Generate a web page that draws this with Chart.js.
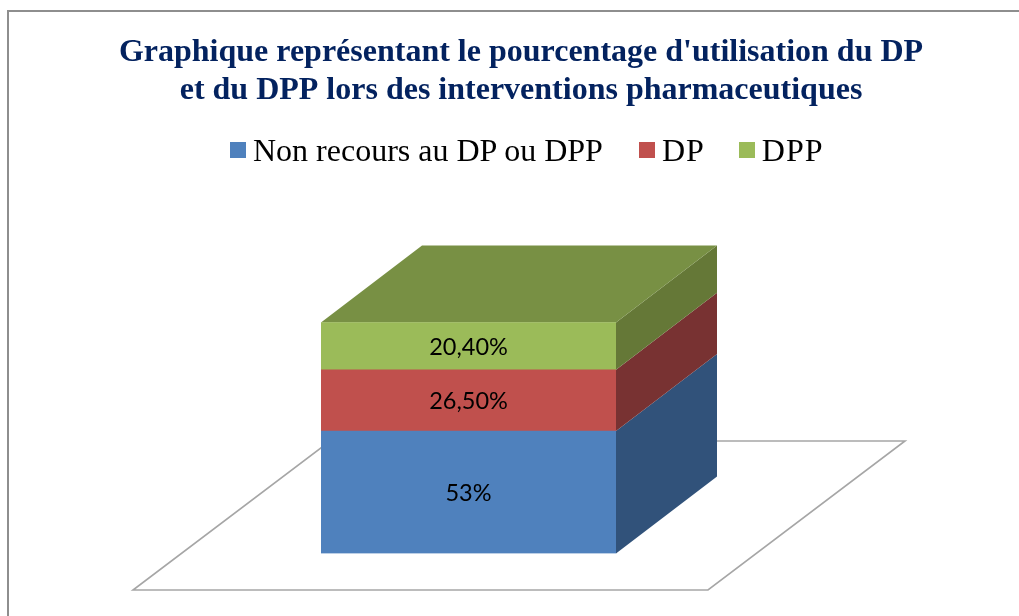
<!DOCTYPE html>
<html lang="fr">
<head>
<meta charset="utf-8">
<title>Graphique DP / DPP</title>
<script src="https://cdn.jsdelivr.net/npm/chart.js@4/dist/chart.umd.min.js"></script>
<style>
  html, body { margin: 0; padding: 0; background: #fff; overflow: hidden; width: 1019px; height: 616px; }
  #frame { position: absolute; left: 7px; top: 10px; width: 1100px; height: 700px; border: 2px solid #8e8e8e; }
  #chart { position: absolute; left: 0; top: 0; display: block; }
  #legend { position: absolute; left: 230px; top: 130px; display: flex; align-items: center; white-space: nowrap;
            font: 32px "Liberation Serif", serif; color: #000; line-height: 40px; }
  .legend-item { display: flex; align-items: center; margin-right: 36px; }
  .legend-box { width: 16px; height: 16px; margin-right: 7px; }
  .legend-item:nth-child(2) { margin-right: 34px; }
  .legend-item:nth-child(n+2) span:last-child { letter-spacing: 1px; }
</style>
</head>
<body>
<div id="frame"></div>
<canvas id="chart" width="1019" height="616"></canvas>
<div id="legend"></div>
<script>
const titleLines = ["Graphique représentant le pourcentage d'utilisation du DP", "et du DPP lors des interventions pharmaceutiques"];
const categories = ['Interventions pharmaceutiques'];
const seriesNames = ['Non recours au DP ou DPP', 'DP', 'DPP'];
const seriesValues = [53, 26.5, 20.4];
const valueLabels = ['53%', '26,50%', '20,40%'];
const frontColors = ['#4F81BD', '#C0504D', '#9BBB59'];
const sideColors = ['#31527A', '#783232', '#657837'];
const topColor = '#789044';

// depth of the fake 3D box, and of the floor around it
const DEPTH_X = 101, DEPTH_Y = 77;

const poly = (ctx, pts, fill) => {
  ctx.beginPath();
  pts.forEach((p, i) => i ? ctx.lineTo(p[0], p[1]) : ctx.moveTo(p[0], p[1]));
  ctx.closePath();
  ctx.fillStyle = fill;
  ctx.fill();
};

const boxPlugin = {
  id: 'box3d',
  beforeDatasetsDraw(chart) {
    const { ctx } = chart;
    const bars = chart.data.datasets.map((d, i) => chart.getDatasetMeta(i).data[0]);
    const first = bars[0];
    const left = first.x - first.width / 2, right = first.x + first.width / 2;
    const bottom = chart.scales.y.getPixelForValue(0);

    ctx.save();
    // floor
    ctx.beginPath();
    ctx.moveTo(left - 188, bottom + 36.5);
    ctx.lineTo(right + 92, bottom + 36.5);
    ctx.lineTo(right + 289, bottom - 112.5);
    ctx.lineTo(left + 9, bottom - 112.5);
    ctx.closePath();
    ctx.strokeStyle = '#a6a6a6';
    ctx.lineWidth = 1.6;
    ctx.stroke();

    // side faces, one per stacked series
    bars.forEach((bar, i) => {
      poly(ctx, [
        [right, bar.base], [right + DEPTH_X, bar.base - DEPTH_Y],
        [right + DEPTH_X, bar.y - DEPTH_Y], [right, bar.y]
      ], sideColors[i]);
    });

    // top face
    const top = bars[bars.length - 1].y;
    poly(ctx, [
      [left, top], [right, top],
      [right + DEPTH_X, top - DEPTH_Y], [left + DEPTH_X, top - DEPTH_Y]
    ], topColor);
    ctx.restore();
  },
  afterDatasetsDraw(chart) {
    const { ctx } = chart;
    ctx.save();
    ctx.textAlign = 'center';
    ctx.textBaseline = 'middle';
    ctx.fillStyle = '#000';
    ctx.font = '23.5px Lato, sans-serif';
    chart.data.datasets.forEach((d, i) => {
      const bar = chart.getDatasetMeta(i).data[0];
      ctx.fillText(valueLabels[i], bar.x, (bar.y + bar.base) / 2 + 1.5);
    });
    ctx.restore();
  }
};

document.getElementById('legend').innerHTML = seriesNames.map((name, i) => `
  <span class="legend-item">
    <span class="legend-box" style="background:${frontColors[i]}"></span>
    <span>${name}</span>
  </span>
`).join('');

new Chart(document.getElementById('chart'), {
  type: 'bar',
  data: {
    labels: categories,
    datasets: seriesNames.map((name, i) => ({
      label: name,
      data: [seriesValues[i]],
      backgroundColor: frontColors[i],
      borderWidth: 0,
      barPercentage: 1,
      categoryPercentage: 1
    }))
  },
  options: {
    responsive: false,
    animation: false,
    layout: { padding: { left: 23, right: 0, top: 33.5, bottom: 62.5 } },
    plugins: {
      legend: { display: false },
      tooltip: { enabled: false },
      title: {
        display: true,
        text: titleLines,
        color: '#03225F',
        padding: 0,
        font: { family: '"Liberation Serif", serif', size: 32, weight: 'bold', lineHeight: 1.19 }
      }
    },
    scales: {
      x: { stacked: true, display: false },
      y: {
        stacked: true, min: 0, max: 192, position: 'left',
        ticks: { display: false }, grid: { display: false }, border: { display: false },
        afterFit(scale) { scale.width = 298; }
      },
      yRight: {
        axis: 'y', position: 'right', min: 0, max: 192,
        ticks: { display: false }, grid: { display: false }, border: { display: false },
        afterFit(scale) { scale.width = 403; }
      }
    }
  },
  plugins: [boxPlugin]
});
</script>
</body>
</html>
